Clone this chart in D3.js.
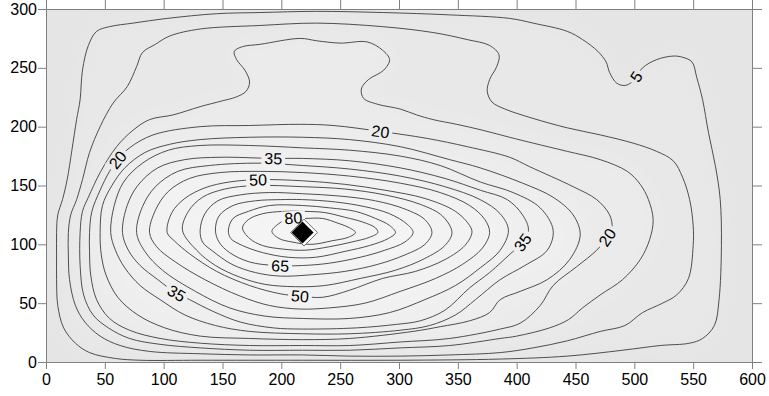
<!DOCTYPE html>
<html><head><meta charset="utf-8">
<script src="https://cdn.jsdelivr.net/npm/d3@7"></script>
<style>
body{margin:0;background:#fff;}
svg{display:block;font-family:"Liberation Sans",Arimo,Arial,sans-serif;}
</style></head><body>
<svg id="chart" width="769" height="396"></svg>
<script>
// ---------- data (data units) ----------
const xTicks = [0,50,100,150,200,250,300,350,400,450,500,550,600];
const yTicks = [0,50,100,150,200,250,300];
const levels = [5,10,15,20,25,30,35,40,45,50,55,60,65,70,75,80];
const peak = [218,110];

const contour5 = [[9,110],[10,125],[14,138],[18,155],[22,180],[26,206],[29,223],[31,248],[36,269],[43,281],[54,285],[74,288],[103,292],[145,296],[182,297],[230,298],[286,297],[343,295],[394,292],[414,288],[443,281],[456,274],[469,264],[476,255],[479,246],[485,237],[492,235],[498,238],[507,250],[519,257],[533,260],[541,259],[549,255],[553,242],[558,223],[563,195],[569,166],[573,138],[574,99],[572,53],[568,31],[558,20],[547,16],[522,14],[490,10],[443,5],[386,2.5],[301,1.5],[218,1.5],[131,1.5],[80,1.5],[59,3],[37,8],[25,16],[15,29],[10,48],[9,70],[9,91]];
const contour10 = [[19,110],[21,125],[26,138],[31,155],[37,178],[46,200],[57,220],[69,234],[77,251],[82,263],[93,270],[105,277],[131,283],[182,286],[230,288],[286,285],[329,280],[358,274],[377,269],[385,261],[383,251],[377,240],[375,230],[379,221],[390,215],[414,207],[443,199],[471,193],[499,186],[519,179],[533,171],[541,157],[547,138],[550,116],[550,99],[546,71],[536,57],[524,50],[507,42],[492,31],[471,26],[443,18],[414,12],[386,8],[343,6],[301,5],[258,5],[218,6],[173,6],[131,7],[88,9],[63,14],[46,22],[33,34],[25,48],[20,70],[19,91]];
const contour15 = [[29,110],[31,128],[36,140],[46,161],[60,183],[74,197],[88,206],[108,210],[131,217],[150,222],[161,225],[170,230],[173,238],[169,248],[162,257],[160,264],[167,268],[182,270],[216,275],[230,273],[250,271],[273,272],[286,265],[292,257],[287,248],[274,240],[268,232],[270,224],[282,219],[301,215],[315,210],[329,206],[349,202],[371,197],[394,191],[414,186],[443,179],[471,172],[494,162],[505,151],[512,138],[516,121],[513,104],[505,87],[490,70],[471,57],[456,46],[444,36],[428,29],[400,22],[386,20],[343,14],[301,12],[258,10],[218,10],[173,10],[131,12],[97,15],[71,20],[53,29],[40,40],[32,57],[29,82]];
const contour20 = [[37,110],[39,128],[46,146],[54,162],[61,172],[71,182],[91,193],[131,200],[173,201],[216,202],[244,201],[284,196],[324,190],[358,183],[394,174],[411,166],[448,149],[468,138],[479,125],[481,114],[477,106],[468,95],[451,81],[431,65],[420,48],[403,33],[386,28],[343,20],[301,17],[258,14],[218,14],[173,14],[131,16],[97,20],[71,27],[54,37],[43,53],[38,74],[37,94]];
const contour25 = [[46,110],[48,133],[56,150],[67,165],[84,178],[105,185],[131,189],[173,191],[218,191],[258,189],[301,183],[343,172],[369,165],[405,152],[431,140],[448,125],[454,108],[445,87],[426,70],[403,60],[386,53],[377,42],[360,35],[335,30],[312,26],[258,20],[218,19],[173,20],[131,22],[101,29],[78,40],[61,55],[51,74],[47,91]];
const contour30 = [[55,110],[58,133],[66,153],[82,169],[104,180],[131,184],[173,184],[218,182],[258,180],[301,175],[335,167],[369,153],[397,144],[420,131],[431,112],[426,95],[407,82],[386,70],[365,53],[348,40],[326,31],[301,27],[258,24],[218,24],[173,26],[144,31],[118,40],[97,53],[80,65],[67,80],[59,95]];
const contour35 = [[65,110],[69,133],[78,150],[95,165],[118,172],[148,174],[193,173],[218,173],[258,171],[301,165],[339,156],[369,146],[392,138],[405,125],[410,112],[403,99],[397,94],[377,76],[360,63],[339,44],[318,35],[298,32],[264,29],[218,28],[193,29],[165,34],[142,43],[122,53],[110,59],[95,70],[80,82],[70,95]];
const contour40 = [[77,110],[82,132],[93,149],[112,162],[139,167],[182,169],[218,167],[258,164],[301,158],[339,149],[369,138],[386,126],[393,112],[386,95],[369,80],[348,65],[322,53],[292,42],[258,37],[218,37],[186,39],[156,46],[127,60],[99,78],[84,94]];
const contour45 = [[88,110],[93,129],[104,145],[122,156],[148,161],[182,162],[218,161],[258,158],[301,152],[335,144],[360,133],[373,121],[377,110],[371,97],[354,83],[331,71],[301,60],[271,50],[241,46],[216,45],[190,48],[165,56],[135,70],[110,85],[94,98]];
const contour50 = [[103,110],[107,127],[118,139],[135,148],[156,153],[182,155],[218,154],[254,151],[288,146],[322,139],[348,128],[360,116],[362,110],[356,99],[339,87],[314,77],[286,71],[258,61],[235,55],[216,56],[199,58],[173,65],[145,77],[122,92],[109,103]];
const contour55 = [[116,112],[121,128],[133,140],[152,147],[178,150],[218,149],[254,147],[288,142],[318,134],[337,124],[345,110],[339,99],[322,88],[297,78],[267,71],[237,65],[212,64],[186,66],[165,72],[144,82],[128,95]];
const contour60 = [[131,112],[135,126],[146,137],[165,142],[190,144],[218,143],[250,141],[280,137],[305,130],[322,121],[328,110],[322,100],[305,91],[282,83],[254,77],[224,74],[199,73],[178,76],[158,83],[142,94],[133,102]];
const contour65 = [[144,112],[147,124],[159,133],[178,137],[199,138],[218,138],[246,136],[271,132],[292,126],[307,117],[312,110],[305,102],[288,95],[267,89],[241,84],[218,82],[195,82],[173,85],[156,93],[147,102]];
const contour70 = [[155,112],[159,122],[172,128],[190,133],[218,133],[241,131],[263,128],[280,122],[292,116],[297,110],[291,105],[275,99],[254,94],[229,89],[206,89],[184,93],[167,99],[157,105]];
const contour75 = [[167,114],[172,121],[184,126],[201,128],[220,128],[237,127],[254,123],[269,119],[280,114],[282,110],[275,106],[260,102],[241,98],[220,95],[201,96],[184,99],[173,105]];
const contour80 = [[192,111],[197,117],[207,122],[220,122],[235,122],[248,118],[258,114],[263,110],[257,106],[243,103],[226,100],[209,102],[198,105]];

// contour labels: level and an anchor near the line (data units)
const labelLevels = [5, 20, 20, 20, 35, 35, 35, 50, 50, 65, 80];
const labelX      = [502, 284, 61, 477, 193, 405, 110, 180, 216, 199, 210];
const labelY      = [242, 195, 172, 106, 173, 102, 57, 155, 56, 82, 123];

// ---------- drawing ----------
const contourData = [contour5,contour10,contour15,contour20,contour25,contour30,contour35,contour40,
                     contour45,contour50,contour55,contour60,contour65,contour70,contour75,contour80];
const byLevel = new Map(levels.map((l,i)=>[l, contourData[i]]));

const svg = d3.select("#chart");
const x = d3.scaleLinear().domain([0,600]).range([46,752]);
const y = d3.scaleLinear().domain([0,300]).range([362,9]);

const defs = svg.append("defs");
defs.append("clipPath").attr("id","clip").append("rect")
  .attr("x",x(0)).attr("y",y(300)).attr("width",x(600)-x(0)).attr("height",y(0)-y(300));
const blur = defs.append("filter").attr("id","blur")
  .attr("x","-20%").attr("y","-20%").attr("width","140%").attr("height","140%");
blur.append("feGaussianBlur").attr("stdDeviation",9);

const line = d3.line().x(d=>x(d[0])).y(d=>y(d[1])).curve(d3.curveCatmullRomClosed.alpha(0.5));

// background shading
const bg = svg.append("g").attr("clip-path","url(#clip)");
bg.append("rect").attr("x",x(0)).attr("y",y(300)).attr("width",x(600)-x(0)).attr("height",y(0)-y(300))
  .attr("fill","#e5e5e5");
const shades = [[5,"#e8e8e8"],[15,"#ebebeb"],[25,"#efefef"],[40,"#f2f2f2"],[60,"#f4f4f4"]];
bg.append("g").attr("filter","url(#blur)").selectAll("path").data(shades).join("path")
  .attr("d", d=>line(byLevel.get(d[0]))).attr("fill", d=>d[1]);

// contour lines
const linesG = svg.append("g").attr("clip-path","url(#clip)");
const inner = linesG.append("g").attr("mask","url(#labmask)");
const paths = inner.selectAll("path").data(levels).join("path")
  .attr("d", l=>line(byLevel.get(l)))
  .attr("fill","none").attr("stroke","#3c3c3c").attr("stroke-width",0.9);
const pathNode = new Map();
paths.each(function(l){ pathNode.set(l, this); });

function place(level, X, Y){
  const node = pathNode.get(level);
  const L = node.getTotalLength();
  const px = x(X), py = y(Y);
  let best = 0, bd = Infinity;
  for (let s = 0; s <= L; s += 0.5){
    const p = node.getPointAtLength(s);
    const d = (p.x-px)*(p.x-px)+(p.y-py)*(p.y-py);
    if (d < bd){ bd = d; best = s; }
  }
  const p = node.getPointAtLength(best);
  const a = node.getPointAtLength(Math.max(0,best-5));
  const b = node.getPointAtLength(Math.min(L,best+5));
  let ang = Math.atan2(b.y-a.y, b.x-a.x)*180/Math.PI;
  if (ang > 90) ang -= 180;
  if (ang < -90) ang += 180;
  return {x:p.x, y:p.y, ang};
}

const labelData = labelLevels.map((l,i)=>Object.assign({level:l}, place(l, labelX[i], labelY[i])));

const labG = svg.append("g");
const texts = labG.selectAll("text").data(labelData).join("text")
  .attr("transform", d=>`translate(${d.x},${d.y}) rotate(${d.ang})`)
  .attr("text-anchor","middle").attr("dy","0.36em")
  .attr("font-size",16).attr("fill","#000")
  .text(d=>d.level);
texts.each(function(d){ d.w = this.getComputedTextLength(); });

const mask = defs.append("mask").attr("id","labmask").attr("maskUnits","userSpaceOnUse")
  .attr("x",0).attr("y",0).attr("width",769).attr("height",396);
mask.append("rect").attr("x",0).attr("y",0).attr("width",769).attr("height",396).attr("fill","#fff");
mask.selectAll("rect.gap").data(labelData).join("rect").attr("class","gap")
  .attr("transform", d=>`translate(${d.x},${d.y}) rotate(${d.ang})`)
  .attr("x", d=>-(d.w/2+3)).attr("y",-7).attr("width", d=>d.w+6).attr("height",14)
  .attr("fill","#000");

// peak marker
const dg = svg.append("g").attr("transform",`translate(${x(peak[0])},${y(peak[1])})`);
dg.append("rect").attr("transform","translate(1.5,0) rotate(45)")
  .attr("x",-9.5).attr("y",-9.5).attr("width",19).attr("height",19)
  .attr("fill","#fff").attr("stroke","#555").attr("stroke-width",0.8);
dg.append("rect").attr("transform","rotate(45)")
  .attr("x",-7.8).attr("y",-7.8).attr("width",15.6).attr("height",15.6).attr("fill","#000");

// axes
function styleAxis(g){
  g.select(".domain").remove();
  g.selectAll(".tick line").attr("stroke","#808080");
  g.selectAll(".tick text").attr("fill","#000").attr("font-size",16)
   .attr("font-family",'"Liberation Sans",Arimo,Arial,sans-serif');
}
svg.append("g").attr("transform",`translate(0,${y(0)})`)
  .call(d3.axisBottom(x).tickValues(xTicks).tickSize(7).tickPadding(5).tickFormat(d3.format("d")))
  .call(styleAxis);
svg.append("g").attr("transform",`translate(${x(0)},0)`)
  .call(d3.axisLeft(y).tickValues(yTicks).tickSize(8).tickPadding(1).tickFormat(d3.format("d")))
  .call(styleAxis);
svg.append("g").attr("transform",`translate(0,${y(300)})`)
  .call(d3.axisTop(x).tickValues(xTicks).tickSize(9).tickFormat(""))
  .call(styleAxis);
svg.append("g").attr("transform",`translate(${x(600)},0)`)
  .call(d3.axisRight(y).tickValues(yTicks).tickSize(10).tickFormat(""))
  .call(styleAxis);

// frame
svg.append("rect").attr("x",x(0)+0.5).attr("y",y(300)+0.5)
  .attr("width",x(600)-x(0)).attr("height",y(0)-y(300))
  .attr("fill","none").attr("stroke","#808080").attr("stroke-width",1);
</script>
</body></html>
